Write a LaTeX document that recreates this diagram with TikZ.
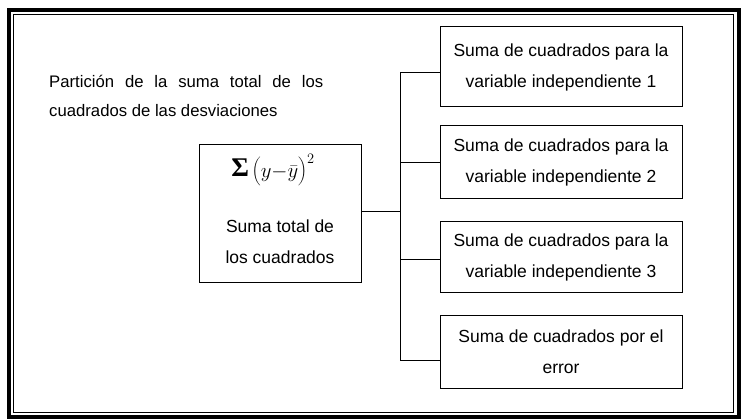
\documentclass[tikz,border=0pt]{standalone}
\usepackage{graphicx}
\usepackage{fontspec}
\setmainfont{Liberation Sans}
\newfontfamily\sigfont{Liberation Serif}
\begin{document}
\begin{tikzpicture}[x=1pt,y=-1pt,
  every node/.style={font=\fontsize{17.5}{31}\selectfont, inner sep=0pt},
  sumbox/.style={draw, line width=1pt, minimum width=242pt, align=center},
  conn/.style={line width=1pt}]
\useasboundingbox (0,0) rectangle (741,419);
% frame
\draw[line width=4pt] (8.5,10) rectangle (739,416.5);
\draw[line width=1pt] (13.5,14.5) rectangle (733.5,412.5);
% title
\node[anchor=base west, align=left, font=\fontsize{16.7}{29}\selectfont] (title) at (49,117)
  {\makebox[274pt][s]{Partición de la suma total de los}\\ cuadrados de las desviaciones};
% total box
\node[draw, line width=1pt, minimum width=162pt, minimum height=138pt] (tot) at (280,214) {};
\node (sig) at (273,170) {{\sigfont\bfseries\fontsize{27}{24}\selectfont Σ}\,\raisebox{-1pt}{\scalebox{1.2}{$\biggl(y{-}\bar{y}\biggr)^{2}$}}};
\node[align=center] (totlbl) at (280,242) {Suma total de\\ los cuadrados};
% component boxes
\node[sumbox, minimum height=80pt] (b1) at (561,67) {Suma de cuadrados para la\\ variable independiente 1};
\node[sumbox, minimum height=73pt] (b2) at (561,162.5) {Suma de cuadrados para la\\ variable independiente 2};
\node[sumbox, minimum height=71pt] (b3) at (561,257.5) {Suma de cuadrados para la\\ variable independiente 3};
\node[sumbox, minimum height=72pt] (b4) at (561,352) {Suma de cuadrados por el\\ error};
% connectors
\coordinate (jn) at (400,0);
\coordinate (t0) at ([yshift=2pt]tot.east);
\coordinate (p1) at ([yshift=-6pt]b1.west);
\coordinate (p2) at (b2.west);
\coordinate (p3) at ([yshift=-2.5pt]b3.west);
\coordinate (p4) at ([yshift=-8pt]b4.west);
\draw[conn] (t0) -- (t0 -| jn);
\draw[conn] (p1) -- (p1 -| jn) -- (p4 -| jn) -- (p4);
\draw[conn] (p2) -- (p2 -| jn);
\draw[conn] (p3) -- (p3 -| jn);
\end{tikzpicture}
\end{document}
